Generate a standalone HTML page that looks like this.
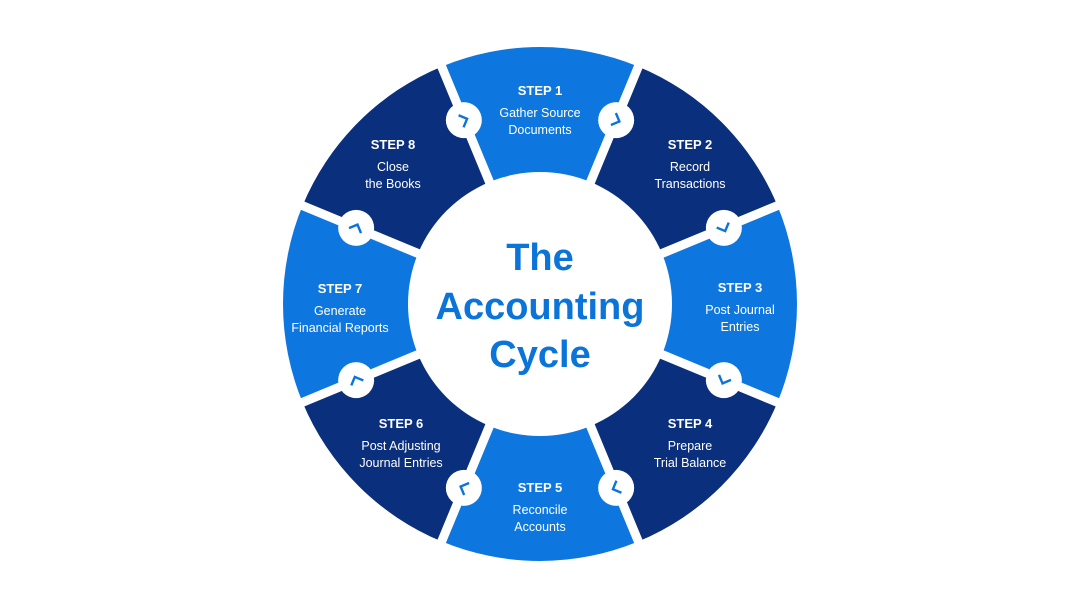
<!DOCTYPE html>
<html><head><meta charset="utf-8"><style>
html,body{margin:0;padding:0;background:#fff;}
svg{display:block;font-family:"Liberation Sans",Arial,sans-serif;}
</style></head><body>
<svg id="s" width="1080" height="608" viewBox="0 0 1080 608" xmlns="http://www.w3.org/2000/svg">
<g id="segs"></g>
<circle cx="540" cy="304" r="132" fill="#fff"/>
<g id="dots"></g>
<g fill="#0b74d8" font-weight="bold" font-size="38" text-anchor="middle">
<text x="540" y="270">The</text>
<text x="540" y="319">Accounting</text>
<text x="540" y="367">Cycle</text>
</g>
<g fill="#fff" text-anchor="middle" font-size="12.5">
<text x="540" y="95" font-weight="bold" font-size="13">STEP 1</text>
<text x="540" y="117">Gather Source</text><text x="540" y="134">Documents</text>
<text x="690" y="149" font-weight="bold" font-size="13">STEP 2</text>
<text x="690" y="171">Record</text><text x="690" y="188">Transactions</text>
<text x="740" y="292" font-weight="bold" font-size="13">STEP 3</text>
<text x="740" y="314">Post Journal</text><text x="740" y="331">Entries</text>
<text x="690" y="428" font-weight="bold" font-size="13">STEP 4</text>
<text x="690" y="450">Prepare</text><text x="690" y="467">Trial Balance</text>
<text x="540" y="492" font-weight="bold" font-size="13">STEP 5</text>
<text x="540" y="514">Reconcile</text><text x="540" y="531">Accounts</text>
<text x="401" y="428" font-weight="bold" font-size="13">STEP 6</text>
<text x="401" y="450">Post Adjusting</text><text x="401" y="467">Journal Entries</text>
<text x="340" y="293" font-weight="bold" font-size="13">STEP 7</text>
<text x="340" y="315">Generate</text><text x="340" y="332">Financial Reports</text>
<text x="393" y="149" font-weight="bold" font-size="13">STEP 8</text>
<text x="393" y="171">Close</text><text x="393" y="188">the Books</text>
</g>
</svg>
<script>
(function(){
var cx=540,cy=304,R=257,r=120,ns="http://www.w3.org/2000/svg";
var segs=document.getElementById('segs'),dots=document.getElementById('dots');
function p(rad,deg){var a=deg*Math.PI/180;return [cx+rad*Math.sin(a),cy-rad*Math.cos(a)];}
for(var i=0;i<8;i++){
 var a0=-22.5+45*i,a1=a0+45;
 var A=p(R,a0),B=p(R,a1),C=p(r,a1),D=p(r,a0);
 var path=document.createElementNS(ns,'path');
 path.setAttribute('d','M'+A+' A'+R+','+R+' 0 0 1 '+B+' L'+C+' A'+r+','+r+' 0 0 0 '+D+'Z');
 path.setAttribute('fill',i%2==0?'#0d77df':'#0a2f7c');
 segs.appendChild(path);
}
for(var i=0;i<8;i++){
 var a=-22.5+45*i;
 var E=p(R+5,a),F=p(r,a);
 var l=document.createElementNS(ns,'line');
 l.setAttribute('x1',E[0]);l.setAttribute('y1',E[1]);l.setAttribute('x2',F[0]);l.setAttribute('y2',F[1]);
 l.setAttribute('stroke','#fff');l.setAttribute('stroke-width','9');
 segs.appendChild(l);
 var P=p(199,a);
 var c=document.createElementNS(ns,'circle');
 c.setAttribute('cx',P[0]);c.setAttribute('cy',P[1]);c.setAttribute('r','18');c.setAttribute('fill','#fff');
 dots.appendChild(c);
 var ch=document.createElementNS(ns,'path');
 ch.setAttribute('d','M-3,-6.5 L3.5,0 L-3,6.5');
 ch.setAttribute('fill','none');ch.setAttribute('stroke','#0b74d8');ch.setAttribute('stroke-width','2.4');
 ch.setAttribute('transform','translate('+P[0]+','+P[1]+') rotate('+a+')');
 dots.appendChild(ch);
}
})();
</script>
</body></html>
